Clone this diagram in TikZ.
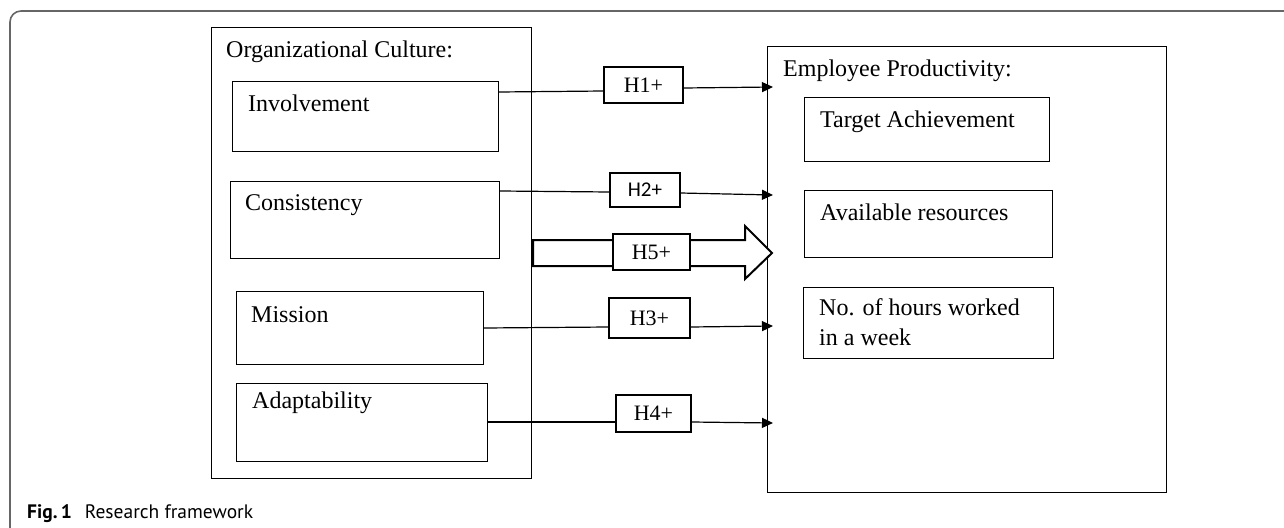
\documentclass[tikz,border=0pt]{standalone}
\usepackage{fontspec}
\setmainfont{Liberation Serif}
\newfontfamily\capfont{PT Sans}
\newfontfamily\hfont{Carlito}
\usetikzlibrary{arrows.meta,calc}
\begin{document}
\begin{tikzpicture}[x=1pt,y=-1pt,
  box/.style={draw=black,line width=1.2pt,inner sep=0pt,anchor=north west},
  hbox/.style={draw=black,line width=1.2pt,fill=white,inner sep=0pt,font=\fontsize{22}{26}\selectfont},
  lbl/.style={anchor=base west,inner sep=0pt,font=\fontsize{24}{29}\selectfont},
  conn/.style={line width=1.2pt,draw=black},
  arr/.style={conn,-{Triangle[length=11pt,width=10pt]}}]
\useasboundingbox (0,0) rectangle (1284,527);
\clip (0,0) rectangle (1284,527);
% outer frame
\draw[line width=1.6pt,draw=black!60,rounded corners=11pt] (10,560) -- (10,11) -- (1320,11);
% left group
\node[box,minimum width=320pt,minimum height=451pt] (oc) at (211,27) {};
\node[lbl] (octxt) at (226,57) {Organizational Culture:};
\node[box,minimum width=266pt,minimum height=70pt] (inv) at (232,81) {};
\node[lbl] at (248,111) {Involvement};
\node[box,minimum width=269pt,minimum height=77pt] (con) at (230,181) {};
\node[lbl] at (245,210) {Consistency};
\node[box,minimum width=247pt,minimum height=73pt] (mis) at (236,291) {};
\node[lbl] at (251,322) {Mission};
\node[box,minimum width=251pt,minimum height=78pt] (ada) at (236,383) {};
\node[lbl] at (252,408) {Adaptability};
% right group
\node[box,minimum width=399pt,minimum height=446pt] (ep) at (767,46) {};
\node[lbl] (eptxt) at (783,77) {Employee Productivity:};
\node[box,minimum width=245pt,minimum height=64pt] (ta) at (804,97) {};
\node[lbl] at (820,127) {Target Achievement};
\node[box,minimum width=248pt,minimum height=67pt] (ar) at (804,190) {};
\node[lbl] at (820,220) {Available resources};
\node[box,minimum width=250pt,minimum height=71pt] (nh) at (803,287) {};
\node[lbl,align=left,font=\fontsize{24}{30}\selectfont] at (819,345) {No. of hours worked\\in a week};
% H5 thick arrow
\draw[line width=2pt,fill=white,line join=miter]
  ($(oc.north east)+(1,213)$) -- (745,240) -- (745,226) -- (772,253) -- (745,279) -- (745,266) -- ($(oc.north east)+(1,239)$) -- cycle;
% hypothesis boxes
\node[hbox,minimum width=79pt,minimum height=36pt] (h1) at (643.5,85) {H1+};
\node[hbox,minimum width=70pt,minimum height=34pt,font=\hfont\fontsize{21}{25}\selectfont] (h2) at (645,190) {H2+};
\node[hbox,minimum width=77pt,minimum height=36pt] (h5) at (651.5,252) {H5+};
\node[hbox,minimum width=81pt,minimum height=40pt] (h3) at (649.5,318) {H3+};
\node[hbox,minimum width=75pt,minimum height=37pt] (h4) at (653.5,413.5) {H4+};
% connectors
\draw[conn] ([yshift=-11pt]inv.north east) -- ([yshift=-6pt]h1.west);
\draw[arr] ([yshift=-3pt]h1.east) -- ([xshift=6pt,yshift=-41pt]ep.north west);
\draw[conn] ([yshift=-10pt]con.north east) -- ([yshift=-2pt]h2.west);
\draw[arr] ([yshift=-3pt]h2.east) -- ([xshift=6pt,yshift=-149pt]ep.north west);
\draw[conn] ([yshift=-37pt]mis.north east) -- ([yshift=-9pt]h3.west);
\draw[arr] ([yshift=-9pt]h3.east) -- ([xshift=6pt,yshift=-280pt]ep.north west);
\draw[conn] ([yshift=-39pt]ada.north east) -- ([yshift=-8.5pt]h4.west);
\draw[arr] ([yshift=-8.5pt]h4.east) -- ([xshift=6pt,yshift=-377pt]ep.north west);
% caption
\node[anchor=base west,inner sep=0pt,font=\capfont\fontsize{19.5}{23}\selectfont] (cap) at (27,518) {\textbf{Fig.\,1}\hspace{13pt}Research framework};
\end{tikzpicture}
\end{document}
